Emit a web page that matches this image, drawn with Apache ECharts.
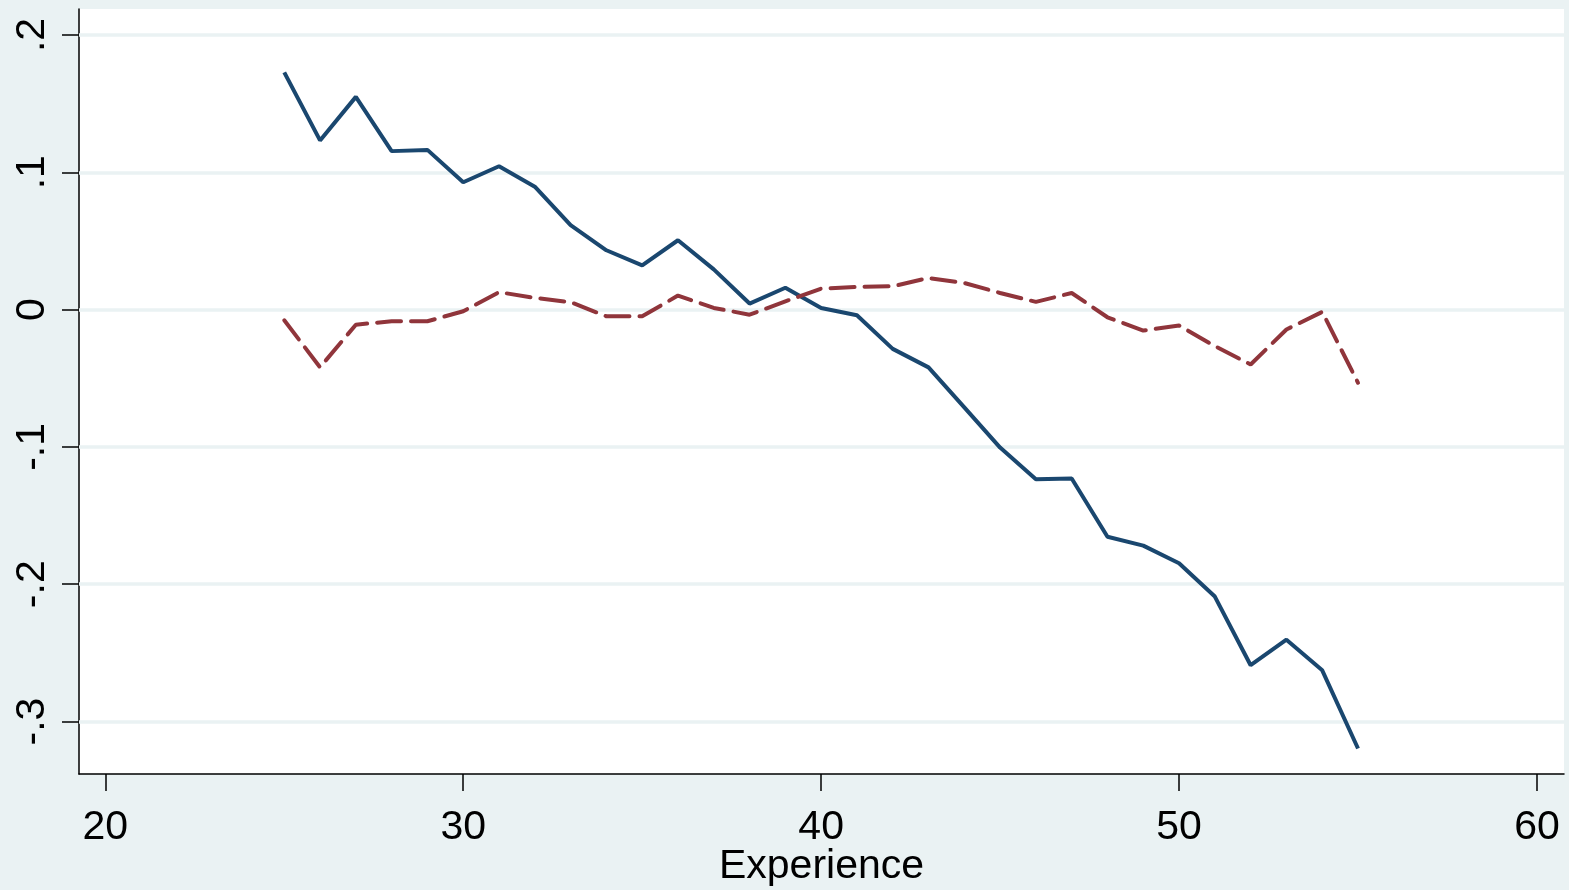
<!DOCTYPE html>
<html>
<head>
<meta charset="utf-8">
<script src="https://cdn.jsdelivr.net/npm/echarts@6/dist/echarts.min.js"></script>
<style>
html,body{margin:0;padding:0;background:#eaf2f3;overflow:hidden;}
#chart{width:1569px;height:890px;}
</style>
</head>
<body>
<div id="chart"></div>
<script>
const experience = [25,26,27,28,29,30,31,32,33,34,35,36,37,38,39,40,41,42,43,44,45,46,47,48,49,50,51,52,53,54,55];
const solidSeries = [0.1727,0.1232,0.1549,0.1154,0.1163,0.0927,0.1044,0.0895,0.0615,0.0432,0.0322,0.0505,0.0293,0.0044,0.0159,0.0012,-0.0041,-0.0286,-0.0421,-0.0712,-0.1005,-0.1235,-0.1230,-0.1654,-0.1719,-0.1847,-0.2090,-0.2590,-0.2404,-0.2627,-0.3196];
const dashedSeries = [-0.0078,-0.0420,-0.0110,-0.0085,-0.0085,-0.0012,0.0127,0.0085,0.0054,-0.0049,-0.0049,0.0102,0.0012,-0.0037,0.0060,0.0153,0.0165,0.0170,0.0230,0.0194,0.0121,0.0056,0.0121,-0.0056,-0.0153,-0.0116,-0.0266,-0.0400,-0.0145,-0.0017,-0.0533];
const xTicks = [20,30,40,50,60];
const yTicks = [-0.3,-0.2,-0.1,0,0.1,0.2];
const xTitle = 'Experience';

function fmtY(v){
  const r = Math.round(v*10)/10;
  if (r === 0) return '0';
  const s = Math.abs(r).toString().replace(/^0/, '');
  return (r < 0 ? '-' : '') + s;
}

const chart = echarts.init(document.getElementById('chart'), null, {renderer:'canvas'});
const font = 'Liberation Sans, Arial, sans-serif';
chart.setOption({
  backgroundColor: '#eaf2f3',
  animation: false,
  grid: {left:79, top:9, right:5, bottom:116, show:true, backgroundColor:'#ffffff', borderWidth:0,
         containLabel:false, outerBoundsMode:'none'},
  xAxis: {
    type:'value', min:19.265, max:60.755,
    name: xTitle, nameLocation:'middle', nameGap:72, nameMoveOverlap:false,
    nameTextStyle:{fontFamily:font, fontSize:41, color:'#000'},
    axisLine:{show:true, onZero:false, lineStyle:{color:'#000', width:1.5}},
    axisTick:{show:true, length:17, customValues:xTicks, lineStyle:{color:'#000', width:1.5}},
    axisLabel:{customValues:xTicks, fontFamily:font, fontSize:41, color:'#000', margin:33},
    splitLine:{show:false}
  },
  yAxis: {
    type:'value', min:-0.3382, max:0.2189,
    axisLine:{show:true, onZero:false, lineStyle:{color:'#000', width:1.5}},
    axisTick:{show:true, length:17, customValues:yTicks, lineStyle:{color:'#000', width:1.5}},
    axisLabel:{customValues:yTicks, rotate:90, fontFamily:font, fontSize:41, color:'#000', margin:26, formatter:fmtY},
    splitLine:{show:false}
  },
  series: [
    {
      type:'line', data: experience.map((x,i)=>[x, solidSeries[i]]),
      symbol:'none', lineStyle:{color:'#1a476f', width:4}, z:3,
      markLine:{silent:true, symbol:['none','none'], label:{show:false},
        lineStyle:{color:'#eaf2f3', width:3.5, type:'solid'},
        data: yTicks.map(v=>({yAxis:v})), z:1}
    },
    {
      type:'line', data: experience.map((x,i)=>[x, dashedSeries[i]]),
      symbol:'none', lineStyle:{color:'#90353b', width:4, type:[24,10], cap:'round'}, z:4
    }
  ]
});
</script>
</body>
</html>
